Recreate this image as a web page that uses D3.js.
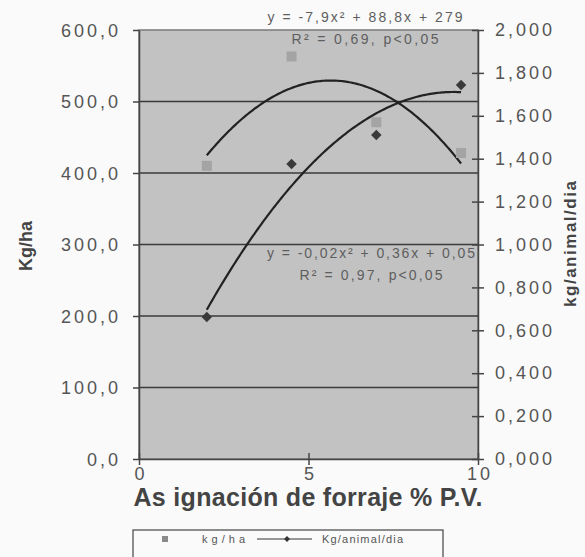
<!DOCTYPE html>
<meta charset="utf-8">
<style>
body { margin: 0; background: #fafafa; }
svg { font-family: "Liberation Sans", Arial, sans-serif; }
.axis text { fill: #555; font-size: 18px; letter-spacing: 3px; }
.axis path, .axis line { stroke: #444; stroke-width: 1.5; }
.grid line { stroke: #3a3a3a; stroke-width: 1.6; }
.eq { fill: #5e5e5e; font-size: 14px; }
.title { fill: #444; font-weight: bold; }
.leg { fill: #555; font-size: 11px; }
</style>
<svg width="585" height="557"></svg>
<script src="https://d3js.org/d3.v7.min.js"></script>
<script>
// values
var asignacion = [2, 4.5, 7, 9.5];
var kgHa = [410, 563, 471, 428];
var kgAnimal = [0.662, 1.375, 1.51, 1.744];

var xTicks = [0, 5, 10];
var leftTicks = [0, 100, 200, 300, 400, 500, 600];
var rightTicks = [0, 0.2, 0.4, 0.6, 0.8, 1.0, 1.2, 1.4, 1.6, 1.8, 2.0];

var eqHa = ["y = -7,9x\u00b2 + 88,8x + 279", "R\u00b2 = 0,69, p<0,05"];
var eqAnimal = ["y = -0,02x\u00b2 + 0,36x + 0,05", "R\u00b2 = 0,97, p<0,05"];
var legendLabels = ["kg/ha", "Kg/animal/dia"];

var svg = d3.select("svg"),
    margin = {top: 30, right: 107, bottom: 98, left: 139},
    width = +svg.attr("width") - margin.left - margin.right,
    height = +svg.attr("height") - margin.top - margin.bottom;

var x = d3.scaleLinear().domain([0, 10]).range([0, width]),
    yL = d3.scaleLinear().domain([0, 600]).range([height, 0]),
    yR = d3.scaleLinear().domain([0, 2]).range([height, 0]);

var g = svg.append("g")
    .attr("transform", "translate(" + margin.left + "," + margin.top + ")");

// plot area
g.append("rect")
    .attr("width", width)
    .attr("height", height)
    .attr("fill", "#c2c2c2")
    .attr("stroke", "#7a7a7a")
    .attr("stroke-width", 1.5);

g.append("g")
    .attr("class", "grid")
  .selectAll("line")
  .data(leftTicks.filter(function(d) { return d > 0 && d < 600; }))
  .enter().append("line")
    .attr("x1", 0)
    .attr("x2", width)
    .attr("y1", function(d) { return yL(d); })
    .attr("y2", function(d) { return yL(d); });

// least squares quadratic, like the spreadsheet trendline
function polyfit2(xs, ys) {
  var n = xs.length, s1 = 0, s2 = 0, s3 = 0, s4 = 0, t0 = 0, t1 = 0, t2 = 0;
  xs.forEach(function(xv, i) {
    var yv = ys[i];
    s1 += xv; s2 += xv * xv; s3 += xv * xv * xv; s4 += xv * xv * xv * xv;
    t0 += yv; t1 += xv * yv; t2 += xv * xv * yv;
  });
  var det = function(m) {
    return m[0][0] * (m[1][1] * m[2][2] - m[1][2] * m[2][1])
         - m[0][1] * (m[1][0] * m[2][2] - m[1][2] * m[2][0])
         + m[0][2] * (m[1][0] * m[2][1] - m[1][1] * m[2][0]);
  };
  var D = det([[n, s1, s2], [s1, s2, s3], [s2, s3, s4]]);
  var Dc = det([[t0, s1, s2], [t1, s2, s3], [t2, s3, s4]]);
  var Db = det([[n, t0, s2], [s1, t1, s3], [s2, t2, s4]]);
  var Da = det([[n, s1, t0], [s1, s2, t1], [s2, s3, t2]]);
  return {c: Dc / D, b: Db / D, a: Da / D};
}

function trend(ys, yScale) {
  var p = polyfit2(asignacion, ys);
  var xs = d3.range(asignacion[0], asignacion[asignacion.length - 1] + 0.001, 0.05);
  return d3.line()
      .x(function(d) { return x(d); })
      .y(function(d) { return yScale(p.c + p.b * d + p.a * d * d); })(xs);
}

g.append("path")
    .attr("d", trend(kgHa, yL))
    .attr("fill", "none")
    .attr("stroke", "#222")
    .attr("stroke-width", 2.2);

g.append("path")
    .attr("d", trend(kgAnimal, yR))
    .attr("fill", "none")
    .attr("stroke", "#222")
    .attr("stroke-width", 2.2);

// markers
g.selectAll(".sq")
  .data(asignacion)
  .enter().append("rect")
    .attr("class", "sq")
    .attr("x", function(d) { return x(d) - 5; })
    .attr("y", function(d, i) { return yL(kgHa[i]) - 5; })
    .attr("width", 10)
    .attr("height", 10)
    .attr("fill", "#a4a4a4");

g.selectAll(".dia")
  .data(asignacion)
  .enter().append("path")
    .attr("class", "dia")
    .attr("d", d3.symbol().type(d3.symbolDiamond2).size(70))
    .attr("transform", function(d, i) { return "translate(" + x(d) + "," + yR(kgAnimal[i]) + ")"; })
    .attr("fill", "#3a3a3a");

// axes
var fmtL = function(d) { return d3.format(".1f")(d).replace(".", ","); },
    fmtR = function(d) { return d3.format(".3f")(d).replace(".", ","); };

g.append("g")
    .attr("class", "axis")
    .call(d3.axisLeft(yL).tickValues(leftTicks).tickFormat(fmtL).tickSize(6).tickPadding(12).tickSizeOuter(0))
  .selectAll("text")
    .attr("dy", "0.36em");

var gr = g.append("g")
    .attr("class", "axis")
    .attr("transform", "translate(" + width + ",0)")
    .call(d3.axisRight(yR).tickValues(rightTicks).tickFormat(fmtR).tickSize(6).tickPadding(11).tickSizeOuter(0));
gr.selectAll(".tick line").attr("x1", -6);

var gx = g.append("g")
    .attr("class", "axis")
    .attr("transform", "translate(0," + height + ")")
    .call(d3.axisBottom(x).tickValues(xTicks).tickSize(6).tickPadding(2).tickSizeOuter(0));
gx.selectAll(".tick line").attr("y1", -6);
gx.selectAll("text").attr("dx", "1.5px");

// equations
g.append("g").selectAll("text")
  .data(eqHa)
  .enter().append("text")
    .attr("class", "eq")
    .attr("x", 226)
    .attr("y", function(d, i) { return -8 + i * 22; })
    .attr("text-anchor", "middle")
    .attr("textLength", function(d, i) { return i ? 147 : 195; })
    .text(function(d) { return d; });

g.append("g").selectAll("text")
  .data(eqAnimal)
  .enter().append("text")
    .attr("class", "eq")
    .attr("x", 232)
    .attr("y", function(d, i) { return 228 + i * 22; })
    .attr("text-anchor", "middle")
    .attr("textLength", function(d, i) { return i ? 143 : 208; })
    .text(function(d) { return d; });

// axis titles
svg.append("text")
    .attr("class", "title")
    .attr("transform", "translate(32,246) rotate(-90)")
    .attr("text-anchor", "middle")
    .attr("font-size", 18)
    .text("Kg/ha");

svg.append("text")
    .attr("class", "title")
    .attr("transform", "translate(576,244) rotate(-90)")
    .attr("text-anchor", "middle")
    .attr("font-size", 17)
    .attr("textLength", 126)
    .text("kg/animal/dia");

svg.append("text")
    .attr("class", "title")
    .attr("x", 308)
    .attr("y", 506)
    .attr("text-anchor", "middle")
    .attr("font-size", 25)
    .attr("textLength", 349)
    .text("As ignación de forraje % P.V.");

// legend
var lg = svg.append("g").attr("transform", "translate(133,530)");
lg.append("rect")
    .attr("width", 310)
    .attr("height", 40)
    .attr("fill", "#fafafa")
    .attr("stroke", "#444")
    .attr("stroke-width", 1.2);
lg.append("rect")
    .attr("x", 29).attr("y", 6)
    .attr("width", 6).attr("height", 6)
    .attr("fill", "#8a8a8a");
lg.append("text")
    .attr("class", "leg")
    .attr("x", 69).attr("y", 13)
    .attr("textLength", 43)
    .text(legendLabels[0]);
lg.append("line")
    .attr("x1", 124).attr("x2", 179)
    .attr("y1", 9).attr("y2", 9)
    .attr("stroke", "#333")
    .attr("stroke-width", 1.2);
lg.append("path")
    .attr("d", d3.symbol().type(d3.symbolDiamond2).size(22))
    .attr("transform", "translate(154,9)")
    .attr("fill", "#333");
lg.append("text")
    .attr("class", "leg")
    .attr("x", 189).attr("y", 13)
    .attr("textLength", 81)
    .text(legendLabels[1]);
</script>
